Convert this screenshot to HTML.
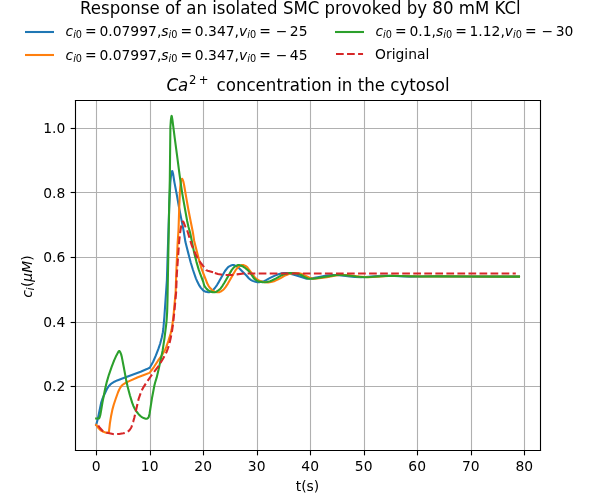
<!DOCTYPE html>
<html><head><meta charset="utf-8"><title>chart</title>
<style>html,body{margin:0;padding:0;background:#fff;overflow:hidden}svg{display:block;will-change:transform}</style></head>
<body>
<svg width="600" height="500" viewBox="0 0 432 360">
 <defs>
  <style type="text/css">*{stroke-linejoin: round; stroke-linecap: butt}</style>
 </defs>
 <g id="figure_1">
  <g id="patch_1">
   <path d="M 0 360  L 432 360  L 432 0  L 0 0  z " style="fill: #ffffff" />
  </g>
  <g id="axes_1">
   <g id="patch_2">
    <path d="M 54 324  L 388.8 324  L 388.8 72  L 54 72  z " style="fill: #ffffff" />
   </g>
   <g id="matplotlib.axis_1">
    <g id="xtick_1">
     <g id="line2d_1">
      <path d="M 69.48 324 L 69.48 72" clip-path="url(#pea53697a00)" style="fill: none; stroke: #b0b0b0; stroke-width: 0.8; stroke-linecap: square" />
     </g>
     <g id="line2d_2">
      <defs>
       <path id="m4b789d4045" d="M 0 0  L 0 3.5  " style="stroke: #000000; stroke-width: 0.8" />
      </defs>
      <g>
       <use href="#m4b789d4045" x="69.48" y="324.36" style="stroke: #000000; stroke-width: 0.8" />
      </g>
     </g>
     <g id="text_1">
      <text style="font-size: 10px; font-family: 'DejaVu Sans', sans-serif; text-anchor: middle" x="69.218182" y="339.028437">0</text>
     </g>
    </g>
    <g id="xtick_2">
     <g id="line2d_3">
      <path d="M 108.36 324 L 108.36 72" clip-path="url(#pea53697a00)" style="fill: none; stroke: #b0b0b0; stroke-width: 0.8; stroke-linecap: square" />
     </g>
     <g id="line2d_4">
      <g>
       <use href="#m4b789d4045" x="108.36" y="324.36" style="stroke: #000000; stroke-width: 0.8" />
      </g>
     </g>
     <g id="text_2">
      <text style="font-size: 10px; font-family: 'DejaVu Sans', sans-serif; text-anchor: middle" x="107.745224" y="339.028437">10</text>
     </g>
    </g>
    <g id="xtick_3">
     <g id="line2d_5">
      <path d="M 146.52 324 L 146.52 72" clip-path="url(#pea53697a00)" style="fill: none; stroke: #b0b0b0; stroke-width: 0.8; stroke-linecap: square" />
     </g>
     <g id="line2d_6">
      <g>
       <use href="#m4b789d4045" x="146.52" y="324.36" style="stroke: #000000; stroke-width: 0.8" />
      </g>
     </g>
     <g id="text_3">
      <text style="font-size: 10px; font-family: 'DejaVu Sans', sans-serif; text-anchor: middle" x="146.272267" y="339.028437">20</text>
     </g>
    </g>
    <g id="xtick_4">
     <g id="line2d_7">
      <path d="M 185.4 324 L 185.4 72" clip-path="url(#pea53697a00)" style="fill: none; stroke: #b0b0b0; stroke-width: 0.8; stroke-linecap: square" />
     </g>
     <g id="line2d_8">
      <g>
       <use href="#m4b789d4045" x="185.4" y="324.36" style="stroke: #000000; stroke-width: 0.8" />
      </g>
     </g>
     <g id="text_4">
      <text style="font-size: 10px; font-family: 'DejaVu Sans', sans-serif; text-anchor: middle" x="184.79931" y="339.028437">30</text>
     </g>
    </g>
    <g id="xtick_5">
     <g id="line2d_9">
      <path d="M 223.56 324 L 223.56 72" clip-path="url(#pea53697a00)" style="fill: none; stroke: #b0b0b0; stroke-width: 0.8; stroke-linecap: square" />
     </g>
     <g id="line2d_10">
      <g>
       <use href="#m4b789d4045" x="223.56" y="324.36" style="stroke: #000000; stroke-width: 0.8" />
      </g>
     </g>
     <g id="text_5">
      <text style="font-size: 10px; font-family: 'DejaVu Sans', sans-serif; text-anchor: middle" x="223.326352" y="339.028437">40</text>
     </g>
    </g>
    <g id="xtick_6">
     <g id="line2d_11">
      <path d="M 262.44 324 L 262.44 72" clip-path="url(#pea53697a00)" style="fill: none; stroke: #b0b0b0; stroke-width: 0.8; stroke-linecap: square" />
     </g>
     <g id="line2d_12">
      <g>
       <use href="#m4b789d4045" x="262.44" y="324.36" style="stroke: #000000; stroke-width: 0.8" />
      </g>
     </g>
     <g id="text_6">
      <text style="font-size: 10px; font-family: 'DejaVu Sans', sans-serif; text-anchor: middle" x="261.853395" y="339.028437">50</text>
     </g>
    </g>
    <g id="xtick_7">
     <g id="line2d_13">
      <path d="M 300.6 324 L 300.6 72" clip-path="url(#pea53697a00)" style="fill: none; stroke: #b0b0b0; stroke-width: 0.8; stroke-linecap: square" />
     </g>
     <g id="line2d_14">
      <g>
       <use href="#m4b789d4045" x="300.6" y="324.36" style="stroke: #000000; stroke-width: 0.8" />
      </g>
     </g>
     <g id="text_7">
      <text style="font-size: 10px; font-family: 'DejaVu Sans', sans-serif; text-anchor: middle" x="300.380437" y="339.028437">60</text>
     </g>
    </g>
    <g id="xtick_8">
     <g id="line2d_15">
      <path d="M 339.48 324 L 339.48 72" clip-path="url(#pea53697a00)" style="fill: none; stroke: #b0b0b0; stroke-width: 0.8; stroke-linecap: square" />
     </g>
     <g id="line2d_16">
      <g>
       <use href="#m4b789d4045" x="339.48" y="324.36" style="stroke: #000000; stroke-width: 0.8" />
      </g>
     </g>
     <g id="text_8">
      <text style="font-size: 10px; font-family: 'DejaVu Sans', sans-serif; text-anchor: middle" x="338.90748" y="339.028437">70</text>
     </g>
    </g>
    <g id="xtick_9">
     <g id="line2d_17">
      <path d="M 377.64 324 L 377.64 72" clip-path="url(#pea53697a00)" style="fill: none; stroke: #b0b0b0; stroke-width: 0.8; stroke-linecap: square" />
     </g>
     <g id="line2d_18">
      <g>
       <use href="#m4b789d4045" x="377.64" y="324.36" style="stroke: #000000; stroke-width: 0.8" />
      </g>
     </g>
     <g id="text_9">
      <text style="font-size: 10px; font-family: 'DejaVu Sans', sans-serif; text-anchor: middle" x="377.434522" y="339.028437">80</text>
     </g>
    </g>
    <g id="text_10">
     <text style="font-size: 10px; font-family: 'DejaVu Sans', sans-serif; text-anchor: middle" x="221.4" y="353.354562">t(s)</text>
    </g>
   </g>
   <g id="matplotlib.axis_2">
    <g id="ytick_1">
     <g id="line2d_19">
      <path d="M 54 278.28 L 388.8 278.28" clip-path="url(#pea53697a00)" style="fill: none; stroke: #b0b0b0; stroke-width: 0.8; stroke-linecap: square" />
     </g>
     <g id="line2d_20">
      <defs>
       <path id="mf82b60248f" d="M 0 0  L -3.5 0  " style="stroke: #000000; stroke-width: 0.8" />
      </defs>
      <g>
       <use href="#mf82b60248f" x="54.36" y="278.28" style="stroke: #000000; stroke-width: 0.8" />
      </g>
     </g>
     <g id="text_11">
      <text style="font-size: 10px; font-family: 'DejaVu Sans', sans-serif; text-anchor: end" x="47" y="281.868986">0.2</text>
     </g>
    </g>
    <g id="ytick_2">
     <g id="line2d_21">
      <path d="M 54 232.2 L 388.8 232.2" clip-path="url(#pea53697a00)" style="fill: none; stroke: #b0b0b0; stroke-width: 0.8; stroke-linecap: square" />
     </g>
     <g id="line2d_22">
      <g>
       <use href="#mf82b60248f" x="54.36" y="232.2" style="stroke: #000000; stroke-width: 0.8" />
      </g>
     </g>
     <g id="text_12">
      <text style="font-size: 10px; font-family: 'DejaVu Sans', sans-serif; text-anchor: end" x="47" y="235.357358">0.4</text>
     </g>
    </g>
    <g id="ytick_3">
     <g id="line2d_23">
      <path d="M 54 185.4 L 388.8 185.4" clip-path="url(#pea53697a00)" style="fill: none; stroke: #b0b0b0; stroke-width: 0.8; stroke-linecap: square" />
     </g>
     <g id="line2d_24">
      <g>
       <use href="#mf82b60248f" x="54.36" y="185.4" style="stroke: #000000; stroke-width: 0.8" />
      </g>
     </g>
     <g id="text_13">
      <text style="font-size: 10px; font-family: 'DejaVu Sans', sans-serif; text-anchor: end" x="47" y="188.84573">0.6</text>
     </g>
    </g>
    <g id="ytick_4">
     <g id="line2d_25">
      <path d="M 54 138.6 L 388.8 138.6" clip-path="url(#pea53697a00)" style="fill: none; stroke: #b0b0b0; stroke-width: 0.8; stroke-linecap: square" />
     </g>
     <g id="line2d_26">
      <g>
       <use href="#mf82b60248f" x="54.36" y="138.6" style="stroke: #000000; stroke-width: 0.8" />
      </g>
     </g>
     <g id="text_14">
      <text style="font-size: 10px; font-family: 'DejaVu Sans', sans-serif; text-anchor: end" x="47" y="142.334102">0.8</text>
     </g>
    </g>
    <g id="ytick_5">
     <g id="line2d_27">
      <path d="M 54 92.52 L 388.8 92.52" clip-path="url(#pea53697a00)" style="fill: none; stroke: #b0b0b0; stroke-width: 0.8; stroke-linecap: square" />
     </g>
     <g id="line2d_28">
      <g>
       <use href="#mf82b60248f" x="54.36" y="92.52" style="stroke: #000000; stroke-width: 0.8" />
      </g>
     </g>
     <g id="text_15">
      <text style="font-size: 10px; font-family: 'DejaVu Sans', sans-serif; text-anchor: end" x="47" y="95.822475">1.0</text>
     </g>
    </g>
    <g id="text_16">
     
     <g transform="translate(23.556875 214.38) rotate(-90)">
      <text><tspan x="0" y="-0.40625" style="font-style: oblique; font-size: 10px; font-family: 'DejaVu Sans', sans-serif">c</tspan><tspan x="11.6177" y="-0.40625" style="font-style: oblique; font-size: 10px; font-family: 'DejaVu Sans', sans-serif">μ</tspan><tspan x="17.98" y="-0.40625" style="font-style: oblique; font-size: 10px; font-family: 'DejaVu Sans', sans-serif">M</tspan><tspan x="5.498" y="1.234375" style="font-style: oblique; font-size: 7px; font-family: 'DejaVu Sans', sans-serif">i</tspan><tspan x="7.7163" y="-0.40625" style="font-size: 10px; font-family: 'DejaVu Sans', sans-serif">(</tspan><tspan x="26.6079" y="-0.40625" style="font-size: 10px; font-family: 'DejaVu Sans', sans-serif">)</tspan></text>
     </g>
    </g>
   </g>
   <g id="line2d_29">
    <path d="M 69.2208 306  L 70.1208 302.796476  L 71.0208 298.693924  L 72.864 289.8  L 73.584 287.64  L 74.8008 284.712764  L 77.1408 279.770359  L 78.4008 277.940798  L 79.4808 276.796065  L 80.7408 275.796641  L 82.3608 274.81663  L 84.3408 273.906645  L 89.0208 272.11699  L 101.2608 267.654853  L 105.7608 265.727344  L 107.748 264.744  L 108.1008 264.287291  L 110.2608 260.435191  L 112.2408 255.881148  L 114.0408 251.240335  L 115.3008 247.486861  L 116.3808 243.39695  L 117.2808 239.185101  L 117.6408 236.32208  L 118.3608 227.900252  L 120.168 201.6  L 120.7008 184.075615  L 121.7808 150.506417  L 122.616 131.76  L 123.0408 127.150529  L 123.5808 124.094188  L 123.9408 123.133582  L 123.984 123.12  L 124.1208 123.273143  L 124.56 124.92  L 124.8408 126.552484  L 125.5608 131.117762  L 127.3608 140.623461  L 128.6208 147.840852  L 132.2208 166.22393  L 133.4808 174.144503  L 134.3808 177.677796  L 135.6408 182.615147  L 137.2608 188.848927  L 138.96 194.4  L 141.0408 200.421617  L 142.1208 202.914757  L 143.5608 205.681222  L 144.6408 207.265918  L 146.2608 209.02897  L 147.1608 209.696273  L 147.8808 209.960147  L 149.5008 210.31292  L 150.5808 210.380915  L 151.3008 210.199122  L 152.2008 209.679405  L 153.8208 208.394957  L 154.7208 207.353727  L 156.3408 205.050978  L 157.6008 202.92904  L 162 195.12  L 163.9008 192.687933  L 164.8008 191.926449  L 166.4208 191.09599  L 167.3208 190.83576  L 168.0408 190.815826  L 168.9408 191.045816  L 170.2008 191.646695  L 171.4608 192.441963  L 172.9008 193.800242  L 177.5808 198.540346  L 179.28 200.52  L 180.8208 201.654314  L 181.9008 202.220725  L 183.8808 202.888853  L 185.3208 203.165148  L 186.5808 203.148951  L 188.3808 202.885102  L 190.0008 202.481375  L 191.2608 201.8487  L 194.5008 200.089431  L 197.9208 198.432581  L 200.4408 197.408516  L 202.9608 196.737628  L 204.4008 196.560576  L 206.0208 196.648192  L 208.9008 197.062003  L 211.0608 197.611213  L 215.2008 198.921579  L 220.32 200.592  L 223.3008 200.485932  L 225.6408 200.237056  L 230.6808 199.247717  L 235.0008 198.467042  L 239.1408 198.012308  L 241.4808 198.034225  L 245.9808 198.31517  L 251.7408 199.029965  L 255.7008 199.445754  L 259.8408 199.578456  L 263.2608 199.402032  L 274.2408 198.646727  L 278.3808 198.584351  L 283.9608 198.772789  L 294.9408 199.151463  L 301.6008 199.061908  L 311.6808 198.945768  L 344.8008 199.141158  L 373.68 199.152  L 373.68 199.152  " clip-path="url(#pea53697a00)" style="fill: none; stroke: #1f77b4; stroke-width: 1.5; stroke-linecap: square" />
   </g>
   <g id="line2d_30">
    <path d="M 69.2208 306  L 70.6608 307.916962  L 72.2808 309.625108  L 73.1808 310.249695  L 74.4408 310.874676  L 76.4208 311.545177  L 77.3208 311.611472  L 78.336 311.472  L 78.4008 311.255833  L 79.1208 304.868003  L 80.0208 299.287676  L 80.9208 294.925249  L 81.936 291.24  L 83.2608 287.276233  L 85.0608 282.256406  L 85.9608 280.244499  L 87.0408 278.438961  L 87.9408 277.421209  L 89.0208 276.516879  L 90.4608 275.616245  L 92.6208 274.556963  L 99.2808 271.620967  L 103.6008 269.970453  L 107.5608 268.45637  L 107.9208 268.182759  L 110.8008 264.276864  L 113.8608 259.524501  L 116.0208 256.580563  L 118.0008 253.472402  L 118.9008 251.787954  L 119.8008 249.587288  L 121.2408 245.458171  L 122.8608 240.113398  L 123.5808 237.084269  L 124.3008 232.410291  L 125.0208 226.09494  L 126.4608 210.062195  L 127.0008 194.260534  L 127.9008 174.746874  L 128.52 165.6  L 128.9808 151.654072  L 129.5208 137.990413  L 129.8808 133.49401  L 130.32 130.32  L 130.7808 128.992901  L 131.04 128.736  L 131.1408 128.772383  L 131.5008 129.34576  L 132.0408 130.837994  L 132.5808 133.38783  L 134.2008 142.795189  L 135.6408 151.022225  L 137.52 160.56  L 138.8808 167.375394  L 139.7808 173.302583  L 140.6808 177.021482  L 142.1208 182.615147  L 143.7408 188.860589  L 145.1808 193.636224  L 146.2608 196.563613  L 148.6008 202.47644  L 149.1408 203.9734  L 150.2208 205.951239  L 151.3008 207.426509  L 152.3808 208.514192  L 153.6408 209.548433  L 154.5408 210.020019  L 155.8008 210.306299  L 157.32 210.456  L 157.9608 210.361673  L 158.8608 209.969799  L 160.1208 209.123139  L 161.2008 208.222917  L 162.2808 206.879745  L 164.0808 204.191582  L 166.0608 200.619792  L 169.4808 194.735553  L 171.1008 192.710141  L 172.0008 191.930349  L 173.6208 191.0195  L 174.3408 190.817228  L 175.0608 190.856869  L 175.9608 191.183889  L 177.4008 191.9152  L 178.1208 192.507964  L 179.0208 193.686866  L 183.5208 199.731455  L 184.9608 201.018823  L 186.0408 201.743136  L 187.3008 202.295012  L 189.1008 202.85194  L 190.9008 203.158642  L 192.96 203.328  L 194.1408 203.229243  L 195.9408 202.83637  L 197.9208 202.24329  L 199.9008 201.362463  L 202.0608 200.196541  L 204.7608 198.585891  L 207.1008 197.586974  L 209.0808 197.004885  L 210.8808 196.613889  L 212.1408 196.56452  L 214.8408 196.732969  L 216.2808 196.975129  L 217.7208 197.511755  L 220.9608 199.055329  L 222.5808 199.838301  L 224.7408 200.600548  L 225.6408 200.662383  L 228.1608 200.526003  L 232.6608 200.003689  L 235.3608 199.552333  L 241.8408 198.381577  L 244.5408 198.0351  L 246.5208 198.007498  L 251.2008 198.184287  L 254.0808 198.529973  L 258.5808 199.031647  L 265.0608 199.583859  L 268.1208 199.467266  L 282.8808 198.576061  L 288.4608 198.679446  L 305.0208 199.110156  L 318.8808 198.961845  L 339.5808 199.131284  L 373.68 199.152  L 373.68 199.152  " clip-path="url(#pea53697a00)" style="fill: none; stroke: #ff7f0e; stroke-width: 1.5; stroke-linecap: square" />
   </g>
   <g id="line2d_31">
    <path d="M 69.2208 301.32  L 71.3808 301.20944  L 71.7408 300.418493  L 72.2808 298.552516  L 72.8208 295.417774  L 73.7208 289.958393  L 75.7008 279.867247  L 76.9608 274.758145  L 78.4008 269.854607  L 80.3808 264.191594  L 82.1808 259.501891  L 83.8008 255.881626  L 85.4208 252.939515  L 85.824 252.72  L 86.1408 252.902917  L 86.5008 253.464482  L 87.2208 255.148697  L 87.7608 257.280442  L 89.2008 264.817289  L 90.8208 273.5319  L 91.9008 278.444638  L 93.5208 284.571465  L 95.1408 289.894527  L 96.0408 292.258241  L 97.1208 294.444052  L 98.3808 296.455435  L 99.6408 298.046266  L 101.0808 299.53018  L 102.1608 300.324033  L 103.4208 301.008292  L 104.8608 301.464353  L 105.5808 301.530672  L 106.1208 301.332758  L 106.6608 300.886932  L 107.0208 300.4338  L 107.3808 299.249197  L 107.7408 297.542223  L 109.5408 285.993371  L 111.1608 277.611705  L 111.7008 275.41742  L 112.7808 271.913564  L 114.2208 265.822802  L 117.1008 252.295476  L 118.3608 243.947593  L 119.6208 233.887521  L 119.9808 230.400346  L 120.3408 224.747254  L 120.6 216  L 121.824 147.6  L 122.256 129.6  L 122.6808 91.452368  L 123.0408 86.332215  L 123.4008 83.825365  L 123.552 83.448  L 123.5808 83.45997  L 123.7608 83.983957  L 124.1208 86.101912  L 125.7408 98.966436  L 127.5408 112.381462  L 129.3408 126.270786  L 131.1408 138.850371  L 134.7408 159.124274  L 135.72 163.44  L 136.9008 167.625922  L 139.7808 181.877748  L 141.4008 188.350006  L 143.0208 193.948122  L 144.1008 197.082439  L 146.2608 202.690885  L 146.9808 205.410208  L 147.8808 206.946535  L 148.7808 207.997354  L 149.8608 208.871772  L 151.3008 209.783367  L 152.2008 210.149077  L 153.2808 210.316479  L 154.7208 210.366127  L 155.4408 210.175435  L 156.3408 209.714918  L 157.9608 208.577891  L 158.8608 207.605895  L 160.3008 205.580203  L 161.5608 203.572878  L 166.7808 194.49047  L 168.2208 192.710141  L 169.1208 191.930349  L 170.7408 191.0195  L 171.4608 190.817228  L 172.1808 190.83318  L 173.2608 191.121724  L 175.0608 191.928467  L 176.1408 192.616193  L 177.9408 194.127404  L 179.5608 195.69846  L 180.4608 196.828934  L 182.9808 200.607309  L 184.4208 201.721772  L 185.6808 202.418306  L 186.7608 202.742913  L 188.9208 203.118337  L 190.5408 203.171961  L 192.1608 202.978303  L 194.5008 202.461029  L 196.1208 201.806775  L 198.8208 200.421789  L 202.2408 198.41654  L 204.4008 197.524138  L 206.5608 196.908753  L 208.1808 196.593058  L 209.4408 196.576936  L 211.6008 196.806431  L 214.4808 197.323232  L 216.6408 197.971811  L 217.5408 198.399192  L 220.4208 200.027347  L 221.6808 200.452889  L 222.9408 200.724275  L 224.5608 200.72039  L 226.7208 200.56192  L 233.2008 199.5089  L 239.1408 198.471835  L 242.3808 198.0351  L 244.3608 198.007498  L 249.0408 198.184287  L 251.9208 198.529973  L 256.4208 199.031647  L 262.9008 199.583859  L 265.9608 199.467266  L 280.7208 198.576061  L 286.3008 198.679446  L 302.8608 199.110156  L 316.7208 198.961889  L 337.2408 199.130548  L 373.68 199.152  L 373.68 199.152  " clip-path="url(#pea53697a00)" style="fill: none; stroke: #2ca02c; stroke-width: 1.5; stroke-linecap: square" />
   </g>
   <g id="line2d_32">
    <path d="M 70.720187 306.345123  L 72 308.16  L 73.8 310.152014  L 74.592 310.719533  L 75.744 311.212525  L 77.904 311.834891  L 81.288 312.530695  L 82.8 312.552  L 85.752 312.447858  L 88.776 311.972719  L 90.576 311.461468  L 91.8 310.895593  L 92.664 310.297493  L 93.456 309.443318  L 94.32 308.16  L 94.752 307.189527  L 95.904 303.722785  L 96.696 300.775161  L 99.792 287.279872  L 101.016 283.825526  L 102.384 280.521482  L 103.464 278.504756  L 104.976 276.168514  L 108.36 271.261959  L 109.44 269.75812  L 114.12 263.686296  L 117.144 258.645539  L 118.872 255.593293  L 120.096 253.063873  L 120.96 250.743532  L 121.968 247.359765  L 122.904 243.416307  L 123.912 238.054156  L 124.632 232.825642  L 125.496 224.806994  L 126.792 210.784203  L 127.296 197.749385  L 129.024 173.637504  L 129.672 167.586048  L 130.32 163.508943  L 130.896 160.942491  L 131.4 159.822439  L 131.688 159.496016  L 131.904 159.543275  L 132.192 159.987727  L 132.696 161.356198  L 133.344 163.016011  L 134.928 166.367296  L 135.864 169.421628  L 138.024 176.510484  L 139.032 179.1212  L 140.832 183.090931  L 142.416 186.237651  L 143.496 187.874398  L 148.464 194.481416  L 149.544 194.933222  L 153.401939 196.095815  L 153.401939 196.095815  " clip-path="url(#pea53697a00)" style="fill: none; stroke-dasharray: 5.55,2.4; stroke-dashoffset: 0; stroke: #d62728; stroke-width: 1.5" />
   </g>
   <g id="line2d_33">
    <path d="M 154.67488 196.563068  L 156.888 197.263712  L 160.416 197.95584  L 162 198  L 167.184 197.892915  L 175.536 196.960384  L 178.704 196.92  L 371.376 196.92  L 371.376 196.92  " clip-path="url(#pea53697a00)" style="fill: none; stroke-dasharray: 5.55,2.4; stroke-dashoffset: 0; stroke: #d62728; stroke-width: 1.5" />
   </g>
   <g id="patch_3">
    <path d="M 54.36 324.36 L 54.36 72.36" style="fill: none; stroke: #000000; stroke-width: 0.8; stroke-linejoin: miter; stroke-linecap: square" />
   </g>
   <g id="patch_4">
    <path d="M 389.16 324.36 L 389.16 72.36" style="fill: none; stroke: #000000; stroke-width: 0.8; stroke-linejoin: miter; stroke-linecap: square" />
   </g>
   <g id="patch_5">
    <path d="M 54.36 324.36 L 389.16 324.36" style="fill: none; stroke: #000000; stroke-width: 0.8; stroke-linejoin: miter; stroke-linecap: square" />
   </g>
   <g id="patch_6">
    <path d="M 54.36 72.36 L 389.16 72.36" style="fill: none; stroke: #000000; stroke-width: 0.8; stroke-linejoin: miter; stroke-linecap: square" />
   </g>
   <g id="text_17">
    
    <g transform="translate(119.832 65.5239) scale(1 1.07)">
     <text><tspan x="0" y="-0.171875" style="font-style: oblique; font-size: 12px; font-family: 'DejaVu Sans', sans-serif">Ca</tspan><tspan x="16.2902" y="-4.765625" style="font-size: 8.4px; font-family: 'DejaVu Sans', sans-serif">2</tspan><tspan x="23.2711" y="-4.765625" style="font-size: 8.4px; font-family: 'DejaVu Sans', sans-serif">+</tspan><tspan x="36.0885" y="-0.171875" style="font-size: 12px; font-family: 'DejaVu Sans', sans-serif">concentration in the cytosol</tspan></text>
    </g>
   </g>
  </g>
  <g id="line2d_34">
   <path d="M 18.7488 23.04  L 38.1312 23.04  " style="fill: none; stroke: #1f77b4; stroke-width: 1.5; stroke-linecap: square" />
  </g>
  <g id="line2d_35">
   <path d="M 18.7488 39.6  L 38.1312 39.6  " style="fill: none; stroke: #ff7f0e; stroke-width: 1.5; stroke-linecap: square" />
  </g>
  <g id="line2d_36">
   <path d="M 241.9488 23.04  L 261.3312 23.04  " style="fill: none; stroke: #2ca02c; stroke-width: 1.5; stroke-linecap: square" />
  </g>
  <g id="line2d_37">
   <path d="M 241.92 38.88  L 261.396 38.88  " style="fill: none; stroke-dasharray: 5.55,2.4; stroke-dashoffset: 0; stroke: #d62728; stroke-width: 1.5" />
  </g>
  <g id="text_18">
   <text style="font-size: 12px; font-family: 'DejaVu Sans', sans-serif; text-anchor: middle" x="216.252" y="9.936" transform="translate(216.252 9.936) scale(0.996 1.07) translate(-216.252 -9.936)">Response of an isolated SMC provoked by 80 mM KCl</text>
  </g>
  <g id="text_19">
   
   <g transform="translate(47.16 26.208)">
    <text><tspan x="0" y="-0.578125" style="font-style: oblique; font-size: 10px; font-family: 'DejaVu Sans', sans-serif">c</tspan><tspan x="68.9766" y="-0.578125" style="font-style: oblique; font-size: 10px; font-family: 'DejaVu Sans', sans-serif">s</tspan><tspan x="124.9404" y="-0.578125" style="font-style: oblique; font-size: 10px; font-family: 'DejaVu Sans', sans-serif">v</tspan><tspan x="5.498" y="1.0625" style="font-style: oblique; font-size: 7px; font-family: 'DejaVu Sans', sans-serif">i</tspan><tspan x="74.1865" y="1.0625" style="font-style: oblique; font-size: 7px; font-family: 'DejaVu Sans', sans-serif">i</tspan><tspan x="130.8584" y="1.0625" style="font-style: oblique; font-size: 7px; font-family: 'DejaVu Sans', sans-serif">i</tspan><tspan x="7.4429" y="1.0625" style="font-size: 7px; font-family: 'DejaVu Sans', sans-serif">0</tspan><tspan x="76.1313" y="1.0625" style="font-size: 7px; font-family: 'DejaVu Sans', sans-serif">0</tspan><tspan x="132.8032" y="1.0625" style="font-size: 7px; font-family: 'DejaVu Sans', sans-serif">0</tspan><tspan x="14.1182" y="-0.578125" style="font-size: 10px; font-family: 'DejaVu Sans', sans-serif">=</tspan><tspan x="24.4453" y="-0.578125" style="font-size: 10px; font-family: 'DejaVu Sans', sans-serif">0.07997</tspan><tspan x="65.7979" y="-0.578125" style="font-size: 10px; font-family: 'DejaVu Sans', sans-serif">,</tspan><tspan x="82.8066" y="-0.578125" style="font-size: 10px; font-family: 'DejaVu Sans', sans-serif">=</tspan><tspan x="93.1338" y="-0.578125" style="font-size: 10px; font-family: 'DejaVu Sans', sans-serif">0.347</tspan><tspan x="121.7617" y="-0.578125" style="font-size: 10px; font-family: 'DejaVu Sans', sans-serif">,</tspan><tspan x="139.4785" y="-0.578125" style="font-size: 10px; font-family: 'DejaVu Sans', sans-serif">=</tspan><tspan x="151.3643" y="-0.578125" style="font-size: 10px; font-family: 'DejaVu Sans', sans-serif">−</tspan><tspan x="161.5453" y="-0.578125" style="font-size: 10px; font-family: 'DejaVu Sans', sans-serif">25</tspan></text>
   </g>
  </g>
  <g id="text_20">
   
   <g transform="translate(47.16 43.488)">
    <text><tspan x="0" y="-0.578125" style="font-style: oblique; font-size: 10px; font-family: 'DejaVu Sans', sans-serif">c</tspan><tspan x="68.9766" y="-0.578125" style="font-style: oblique; font-size: 10px; font-family: 'DejaVu Sans', sans-serif">s</tspan><tspan x="124.9404" y="-0.578125" style="font-style: oblique; font-size: 10px; font-family: 'DejaVu Sans', sans-serif">v</tspan><tspan x="5.498" y="1.0625" style="font-style: oblique; font-size: 7px; font-family: 'DejaVu Sans', sans-serif">i</tspan><tspan x="74.1865" y="1.0625" style="font-style: oblique; font-size: 7px; font-family: 'DejaVu Sans', sans-serif">i</tspan><tspan x="130.8584" y="1.0625" style="font-style: oblique; font-size: 7px; font-family: 'DejaVu Sans', sans-serif">i</tspan><tspan x="7.4429" y="1.0625" style="font-size: 7px; font-family: 'DejaVu Sans', sans-serif">0</tspan><tspan x="76.1313" y="1.0625" style="font-size: 7px; font-family: 'DejaVu Sans', sans-serif">0</tspan><tspan x="132.8032" y="1.0625" style="font-size: 7px; font-family: 'DejaVu Sans', sans-serif">0</tspan><tspan x="14.1182" y="-0.578125" style="font-size: 10px; font-family: 'DejaVu Sans', sans-serif">=</tspan><tspan x="24.4453" y="-0.578125" style="font-size: 10px; font-family: 'DejaVu Sans', sans-serif">0.07997</tspan><tspan x="65.7979" y="-0.578125" style="font-size: 10px; font-family: 'DejaVu Sans', sans-serif">,</tspan><tspan x="82.8066" y="-0.578125" style="font-size: 10px; font-family: 'DejaVu Sans', sans-serif">=</tspan><tspan x="93.1338" y="-0.578125" style="font-size: 10px; font-family: 'DejaVu Sans', sans-serif">0.347</tspan><tspan x="121.7617" y="-0.578125" style="font-size: 10px; font-family: 'DejaVu Sans', sans-serif">,</tspan><tspan x="139.4785" y="-0.578125" style="font-size: 10px; font-family: 'DejaVu Sans', sans-serif">=</tspan><tspan x="151.3643" y="-0.578125" style="font-size: 10px; font-family: 'DejaVu Sans', sans-serif">−</tspan><tspan x="161.5453" y="-0.578125" style="font-size: 10px; font-family: 'DejaVu Sans', sans-serif">45</tspan></text>
   </g>
  </g>
  <g id="text_21">
   
   <g transform="translate(270.36 26.208)">
    <text><tspan x="0" y="-0.578125" style="font-style: oblique; font-size: 10px; font-family: 'DejaVu Sans', sans-serif">c</tspan><tspan x="43.5273" y="-0.578125" style="font-style: oblique; font-size: 10px; font-family: 'DejaVu Sans', sans-serif">s</tspan><tspan x="93.1289" y="-0.578125" style="font-style: oblique; font-size: 10px; font-family: 'DejaVu Sans', sans-serif">v</tspan><tspan x="5.498" y="1.0625" style="font-style: oblique; font-size: 7px; font-family: 'DejaVu Sans', sans-serif">i</tspan><tspan x="48.7373" y="1.0625" style="font-style: oblique; font-size: 7px; font-family: 'DejaVu Sans', sans-serif">i</tspan><tspan x="99.0469" y="1.0625" style="font-style: oblique; font-size: 7px; font-family: 'DejaVu Sans', sans-serif">i</tspan><tspan x="7.4429" y="1.0625" style="font-size: 7px; font-family: 'DejaVu Sans', sans-serif">0</tspan><tspan x="50.6821" y="1.0625" style="font-size: 7px; font-family: 'DejaVu Sans', sans-serif">0</tspan><tspan x="100.9917" y="1.0625" style="font-size: 7px; font-family: 'DejaVu Sans', sans-serif">0</tspan><tspan x="14.1182" y="-0.578125" style="font-size: 10px; font-family: 'DejaVu Sans', sans-serif">=</tspan><tspan x="24.4453" y="-0.578125" style="font-size: 10px; font-family: 'DejaVu Sans', sans-serif">0.1</tspan><tspan x="40.3486" y="-0.578125" style="font-size: 10px; font-family: 'DejaVu Sans', sans-serif">,</tspan><tspan x="57.3574" y="-0.578125" style="font-size: 10px; font-family: 'DejaVu Sans', sans-serif">=</tspan><tspan x="67.6846" y="-0.578125" style="font-size: 10px; font-family: 'DejaVu Sans', sans-serif">1.12</tspan><tspan x="89.9502" y="-0.578125" style="font-size: 10px; font-family: 'DejaVu Sans', sans-serif">,</tspan><tspan x="107.667" y="-0.578125" style="font-size: 10px; font-family: 'DejaVu Sans', sans-serif">=</tspan><tspan x="119.5527" y="-0.578125" style="font-size: 10px; font-family: 'DejaVu Sans', sans-serif">−</tspan><tspan x="129.7338" y="-0.578125" style="font-size: 10px; font-family: 'DejaVu Sans', sans-serif">30</tspan></text>
   </g>
  </g>
  <g id="text_22">
   <text style="font-size: 10px; font-family: 'DejaVu Sans', sans-serif; text-anchor: start" x="270" y="42.336">Original</text>
  </g>
 </g>
 <defs>
  <clipPath id="pea53697a00">
   <rect x="54" y="72" width="334.8" height="252" />
  </clipPath>
 </defs>
</svg>
</body></html>
